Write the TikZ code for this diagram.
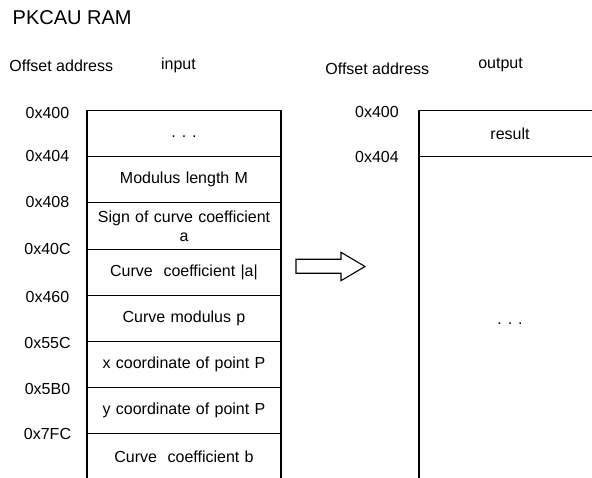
\documentclass[tikz,border=0pt]{standalone}
\usepackage{fontspec}
\setmainfont{Liberation Sans}
\begin{document}
\begin{tikzpicture}[x=1pt,y=-1pt,
  txt/.style={font=\fontsize{16}{19}\selectfont, inner sep=0pt},
  addr/.style={txt, anchor=center},
  cell/.style={draw, line width=1.1pt, minimum width=194pt, minimum height=46.2pt,
    inner sep=0pt, text width=190pt, align=center, font=\fontsize{16}{19}\selectfont},
  rcell/.style={draw, line width=1.1pt, minimum width=182pt, inner sep=0pt,
    align=center, font=\fontsize{16}{19}\selectfont},
  blockarrow/.style={draw, line width=1.1pt, fill=white, line join=miter}
]
\useasboundingbox (0,0) rectangle (592,478);

% headings
\node[anchor=west, inner sep=0pt, font=\fontsize{20}{24}\selectfont] (title) at (12.5,18) {PKCAU RAM};
\node[txt, anchor=base west] (offL) at (9.2,72) {Offset address};
\node[txt, anchor=base] (inL) at (178.5,70) {input};
\node[txt, anchor=base west] (offR) at (325.2,75) {Offset address};
\node[txt, anchor=base] (outR) at (500.5,68.3) {output};

% input memory map
\node[cell] (r1) at (184,133.6) {\strut.\hspace{6pt}.\hspace{6pt}.};
\node[cell] (r2) at (184,179.8) {Modulus length M};
\node[cell] (r3) at (184,226.0) {Sign of curve coefficient\\ a};
\node[cell] (r4) at (184,272.2) {Curve~~coefficient |a|};
\node[cell] (r5) at (184,318.4) {Curve modulus p};
\node[cell] (r6) at (184,364.6) {x coordinate of point P};
\node[cell] (r7) at (184,410.8) {y coordinate of point P};
\node[cell] (r8) at (184,457.0) {Curve~~coefficient b};

% input addresses
\node[addr] (a1) at (47.5,113.0) {0x400};
\node[addr] (a2) at (47.5,156.2) {0x404};
\node[addr] (a3) at (47.5,201.9) {0x408};
\node[addr] (a4) at (47.5,249.2) {0x40C};
\node[addr] (a5) at (47.5,296.5) {0x460};
\node[addr] (a6) at (47.5,342.8) {0x55C};
\node[addr] (a7) at (47.5,389.0) {0x5B0};
\node[addr] (a8) at (47.5,434.2) {0x7FC};

% output memory map
\node[rcell, minimum height=46.4pt] (res) at (510,133.5) {result};
\node[rcell, minimum height=334.6pt] (rest) at (510,324) {.\hspace{6pt}.\hspace{6pt}.};
\node[addr] (b1) at (377,112) {0x400};
\node[addr] (b2) at (377,157) {0x404};

% block arrow
\draw[blockarrow] (296,259.3) -- (341,259.3) -- (341,252.3) -- (365,266.5)
  -- (341,280.7) -- (341,273.3) -- (296,273.3) -- cycle;
\end{tikzpicture}
\end{document}
